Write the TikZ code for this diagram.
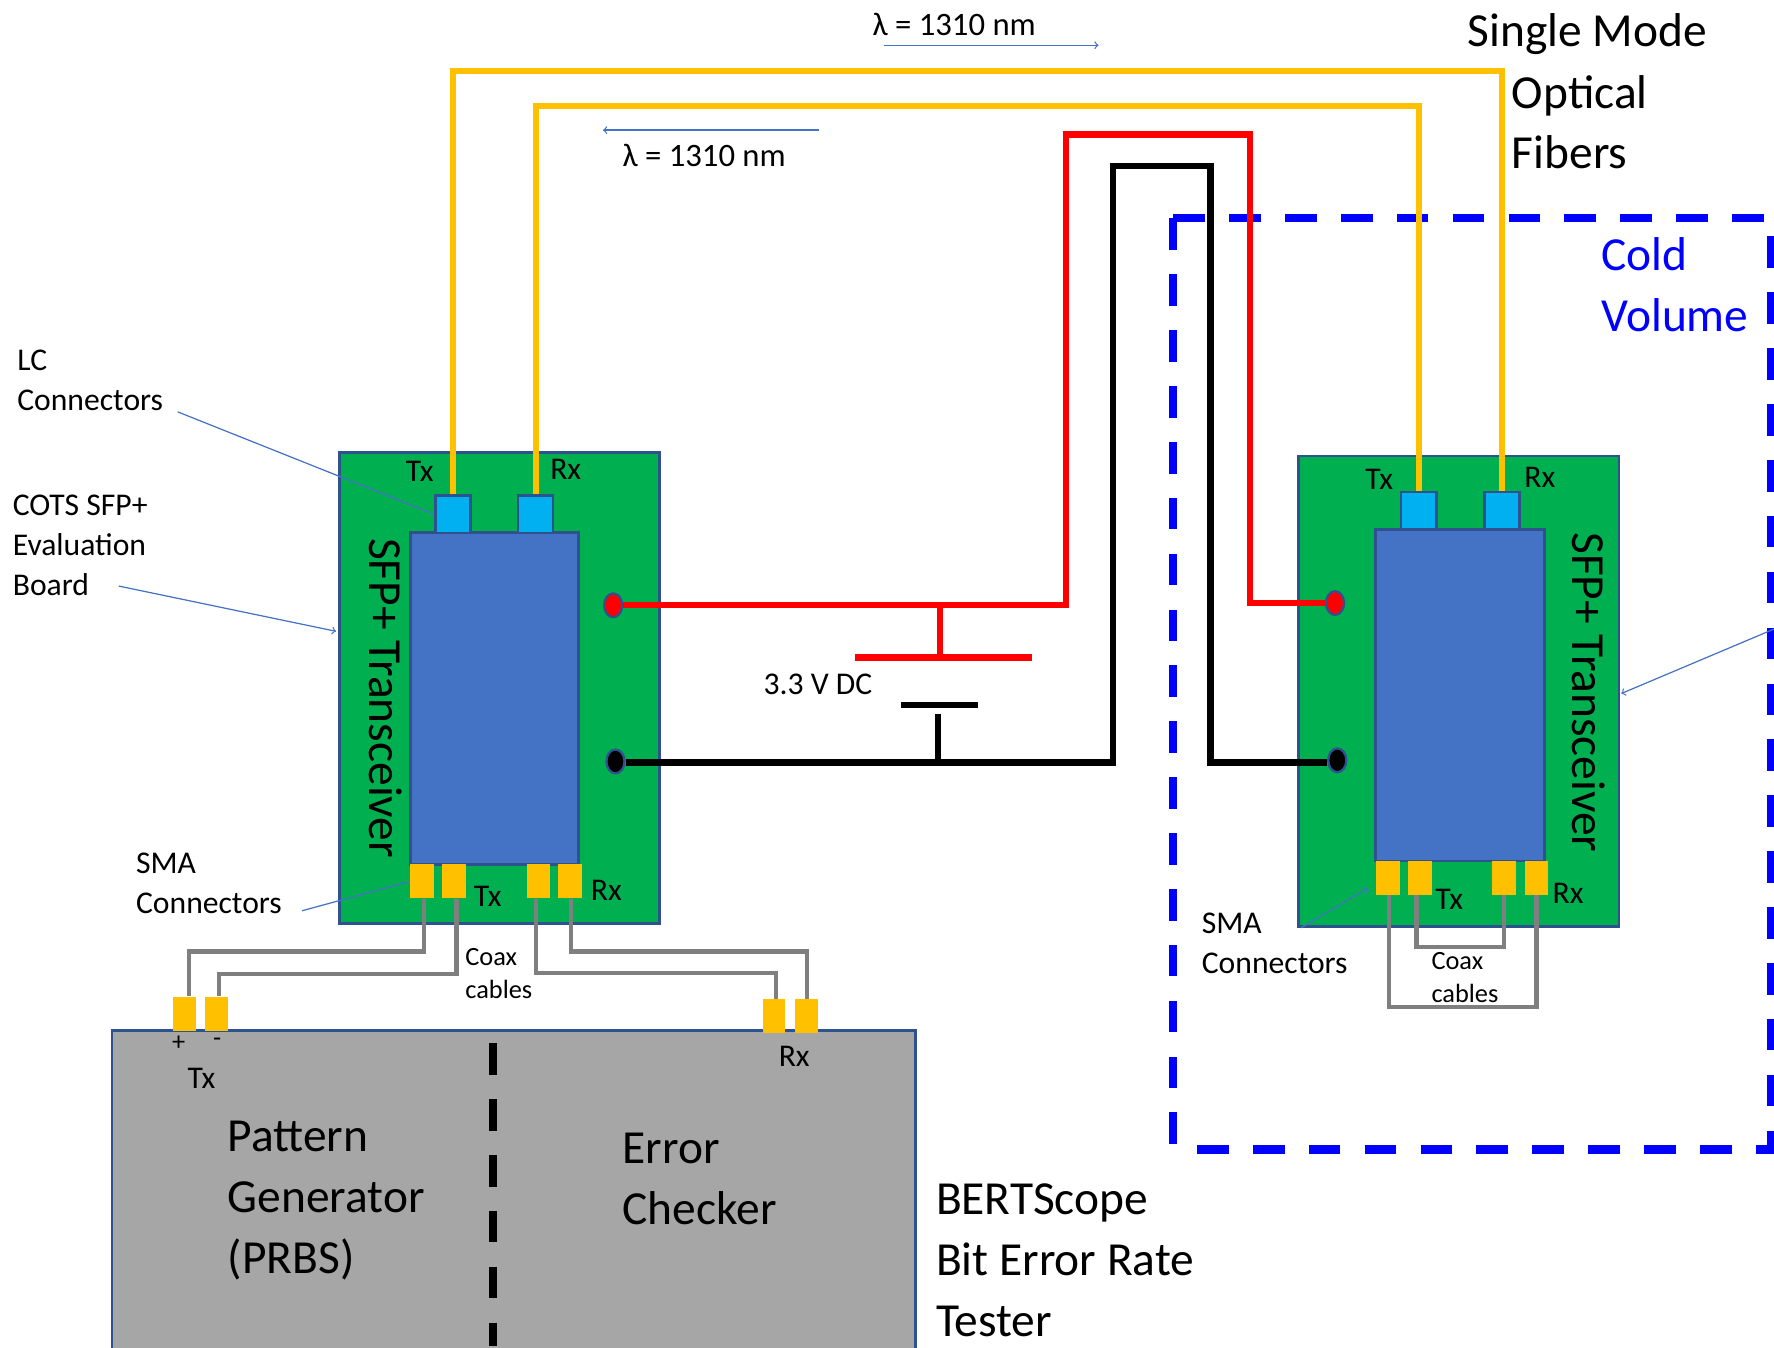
\documentclass[tikz,border=0pt]{standalone}
\usepackage{fontspec}
\setmainfont{Carlito}
\usetikzlibrary{shapes.geometric}
\newcommand{\upx}{0.022628cm}
\definecolor{boardgreen}{HTML}{00B050}
\definecolor{modblue}{HTML}{4472C4}
\definecolor{edgeblue}{HTML}{2F528F}
\definecolor{lcblue}{HTML}{00B0F0}
\definecolor{fibre}{HTML}{FFC000}
\definecolor{coaxgrey}{HTML}{7F7F7F}
\definecolor{bertgrey}{HTML}{A6A6A6}
\definecolor{coldblue}{HTML}{0000FF}
\tikzset{
  board/.style={draw=edgeblue, fill=boardgreen, line width=1.6pt, inner sep=0pt, minimum width=283*\upx, minimum height=416*\upx},
  module/.style={draw=edgeblue, fill=modblue, line width=1.6pt, inner sep=0pt, minimum width=148*\upx, minimum height=293*\upx},
  lcconn/.style={draw=edgeblue, fill=lcblue, line width=1.4pt, inner sep=0pt, minimum width=31*\upx, minimum height=33*\upx},
  smaconn/.style={fill=fibre, inner sep=0pt, minimum width=21*\upx, minimum height=30*\upx},
  pin/.style={ellipse, draw=edgeblue, line width=1.3pt, inner sep=0pt, minimum width=16*\upx, minimum height=21*\upx},
  bigtxt/.style={font=\fontsize{27}{34.7}\selectfont, inner sep=0pt, align=left, anchor=west},
  midtxt/.style={font=\fontsize{18}{22.8}\selectfont, inner sep=0pt, align=left, anchor=west},
  tinytxt/.style={font=\fontsize{15}{19.3}\selectfont, inner sep=0pt, align=left, anchor=west},
  lamtxt/.style={font=\fontsize{18.6}{22.8}\selectfont, inner sep=0pt, anchor=west},
  fibreline/.style={fibre, line width=3.3pt},
  redline/.style={red, line width=3.6pt},
  blackline/.style={black, line width=3.6pt},
  coaxline/.style={coaxgrey, line width=2.4pt},
  thinline/.style={modblue, line width=0.7pt},
  bigdash/.style={line width=4.6pt, dash pattern=on 18pt off 13.8pt},
}
\begin{document}
\begin{tikzpicture}[x=\upx, y=-\upx]
    \useasboundingbox (0,0) rectangle (1568,1190.6);

    % Cold volume
    \draw[bigdash, coldblue] (1037,193) -- (1620,193);
    \draw[bigdash, coldblue] (1037,193) -- (1037,1018);
    \draw[bigdash, coldblue] (1565,209) -- (1565,1016);
    \draw[bigdash, coldblue] (1058,1016) -- (1620,1016);
    \node[bigtxt, text=coldblue] (coldLbl) at (1415,252) {Cold\\Volume};

    % BERTScope
    \node[draw=edgeblue, fill=bertgrey, line width=1.6pt, minimum width=710*\upx, minimum height=289*\upx, inner sep=0pt] (bert) at (454,1055.5) {};
    \node[smaconn, minimum width=20*\upx] (bertTxP) at (163,896) {};
    \node[smaconn, minimum width=20*\upx] (bertTxN) at (191.5,896) {};
    \node[smaconn, minimum width=20*\upx] (bertRxN) at (684,898) {};
    \node[smaconn, minimum width=20*\upx] (bertRxP) at (713,898) {};
    \coordinate (splitTop) at (436,922);
    \coordinate (splitBot) at (436,1190);
    \draw[bigdash, black] (splitTop) -- (splitBot);
    \node[tinytxt, anchor=center] (plusLbl) at (158,922) {+};
    \node[tinytxt, anchor=center] (minusLbl) at (192,921) {-};
    \node[midtxt, anchor=center] (bertTxLbl) at (178,953) {Tx};
    \node[midtxt, anchor=center] (bertRxLbl) at (702,934) {Rx};
    \node[bigtxt] (patLbl) at (201,1061) {Pattern\\Generator\\(PRBS)};
    \node[bigtxt] (errLbl) at (550,1042) {Error\\Checker};
    \node[bigtxt] (bertLbl) at (827,1114) {BERTScope\\Bit Error Rate\\Tester};

    % Left board
    \node[board] (boardL) at (441.5,608) {};
    \node[module] (modL) at (437,617.5) {};
    \node[lcconn] (lcLa) at (400.5,454.5) {};
    \node[lcconn] (lcLb) at (473.5,454.5) {};
    \node[smaconn] (smaLa) at (373,779) {};
    \node[smaconn] (smaLb) at (401.5,779) {};
    \node[smaconn] (smaLc) at (476,779) {};
    \node[smaconn] (smaLd) at (504,779) {};
    \node[pin, fill=red] (pinRedL) at (542,535) {};
    \node[pin, fill=black] (pinBlkL) at (544,673) {};
    \node[rotate=-90, font=\fontsize{27}{32}\selectfont, inner sep=0pt] (sfpL) at (340.5,617) {SFP+ Transceiver};
    \node[midtxt, anchor=center] (txLa) at (371,417) {Tx};
    \node[midtxt, anchor=center] (rxLa) at (500,415) {Rx};
    \node[midtxt, anchor=center] (txLb) at (431,792) {Tx};
    \node[midtxt, anchor=center] (rxLb) at (536,787) {Rx};

    % Right board
    \node[board] (boardR) at (1289.5,611) {};
    \node[module, minimum width=149*\upx] (modR) at (1290.5,614.5) {};
    \node[lcconn] (lcRa) at (1254,451.5) {};
    \node[lcconn] (lcRb) at (1327.5,451.5) {};
    \node[smaconn] (smaRa) at (1226.5,776) {};
    \node[smaconn] (smaRb) at (1255,776) {};
    \node[smaconn] (smaRc) at (1329.5,776) {};
    \node[smaconn] (smaRd) at (1358,776) {};
    \node[pin, fill=red] (pinRedR) at (1180,533) {};
    \node[pin, fill=black] (pinBlkR) at (1182,672) {};
    \node[rotate=-90, font=\fontsize{27}{32}\selectfont, inner sep=0pt] (sfpR) at (1404,612) {SFP+ Transceiver};
    \node[midtxt, anchor=center] (txRa) at (1219,424) {Tx};
    \node[midtxt, anchor=center] (rxRa) at (1361,422) {Rx};
    \node[midtxt, anchor=center] (txRb) at (1281,795) {Tx};
    \node[midtxt, anchor=center] (rxRb) at (1386,790) {Rx};

    % Optical fibers
    \coordinate (fibOut) at (800,63);
    \coordinate (fibBack) at (800,94);
    \draw[fibreline] (lcLa.north) |- (fibOut) -| (lcRb.north);
    \draw[fibreline] (lcLb.north) |- (fibBack) -| (lcRa.north);
    \node[lamtxt] (lamTop) at (771,22) {λ = 1310 nm};
    \node[lamtxt] (lamLow) at (550,137) {λ = 1310 nm};
    \coordinate (lamTopA) at (781,40);
    \coordinate (lamTopB) at (971,40);
    \coordinate (lamLowA) at (724,115);
    \coordinate (lamLowB) at (533,115);
    \draw[->, thinline] (lamTopA) -- (lamTopB);
    \draw[->, thinline] (lamLowA) -- (lamLowB);
    \node[bigtxt] (smLbl) at (1297,30) {Single Mode};
    \node[bigtxt] (optLbl) at (1336,108) {Optical\\Fibers};

    % Supply wires
    \coordinate (redA) at (942,119);
    \coordinate (redB) at (1105,119);
    \coordinate (redC) at (1105,533);
    \coordinate (blkA) at (984,147);
    \coordinate (blkB) at (1070,147);
    \coordinate (blkC) at (1070,674);
    \draw[redline] (pinRedL.east) -| (redA) -- (redB) -- (redC) -- (pinRedR.west);
    \draw[blackline] ([yshift=-1*\upx]pinBlkL.east) -| (blkA) -- (blkB) -- (blkC) -- ([yshift=-2*\upx]pinBlkR.west);

    % Battery
    \coordinate (redTee) at (831,535);
    \coordinate (redPlate) at (831,581);
    \coordinate (redPlateL) at (756,581);
    \coordinate (redPlateR) at (912,581);
    \coordinate (blkTee) at (829,674);
    \coordinate (blkStem) at (829,631);
    \coordinate (blkPlateL) at (796,623);
    \coordinate (blkPlateR) at (864,623);
    \draw[redline] (redTee) -- (redPlate);
    \draw[redline] (redPlateL) -- (redPlateR);
    \draw[blackline] (blkTee) -- (blkStem);
    \draw[blackline] (blkPlateL) -- (blkPlateR);
    \node[midtxt, anchor=center] (dcLbl) at (723,605) {3.3 V DC};

    % Coax, left board to BERTScope
    \coordinate (coaxA) at (300,841);
    \coordinate (coaxB) at (300,861);
    \coordinate (coaxC) at (600,860);
    \coordinate (coaxD) at (600,841);
    \draw[coaxline] ([xshift=2*\upx]smaLa.south) |- (coaxA) -| ([xshift=4*\upx]bertTxP.north);
    \draw[coaxline] ([xshift=2*\upx]smaLb.south) |- (coaxB) -| ([xshift=2*\upx]bertTxN.north);
    \draw[coaxline] ([xshift=-2*\upx]smaLc.south) |- (coaxC) -| ([xshift=2*\upx]bertRxN.north);
    \draw[coaxline] ([xshift=1*\upx]smaLd.south) |- (coaxD) -| (bertRxP.north);
    \node[tinytxt] (coaxLblL) at (411,860.5) {Coax\\cables};

    % Coax, loop back on right board
    \coordinate (loopA) at (1290,890);
    \coordinate (loopB) at (1290,837);
    \draw[coaxline] ([xshift=1.5*\upx]smaRa.south) |- (loopA) -| (smaRd.south);
    \draw[coaxline] ([xshift=-3*\upx]smaRb.south) |- (loopB) -| (smaRc.south);
    \node[tinytxt] (coaxLblR) at (1265,864) {Coax\\cables};

    % Callouts
    \node[midtxt] (lcLbl) at (15,336) {LC\\Connectors};
    \coordinate (lcFrom) at (157,364);
    \draw[thinline] (lcFrom) -- (lcLa.west);
    \node[midtxt] (cotsLbl) at (11,482) {COTS SFP+\\Evaluation\\Board};
    \coordinate (cotsFrom) at (105,518);
    \coordinate (cotsTip) at (297,558);
    \draw[->, thinline] (cotsFrom) -- (cotsTip);
    \node[midtxt] (smaLblL) at (120,780.5) {SMA\\Connectors};
    \coordinate (smaFromL) at (267,805);
    \draw[thinline] (smaFromL) -- (smaLa.west);
    \node[midtxt] (smaLblR) at (1062,833.5) {SMA\\Connectors};
    \coordinate (smaFromR) at (1150,820);
    \coordinate (smaTipR) at (1209,785);
    \draw[->, thinline] (smaFromR) -- (smaTipR);
    \coordinate (cotsFromR) at (1568,556);
    \coordinate (cotsTipR) at (1433,613);
    \draw[->, thinline] (cotsFromR) -- (cotsTipR);
\end{tikzpicture}
\end{document}
